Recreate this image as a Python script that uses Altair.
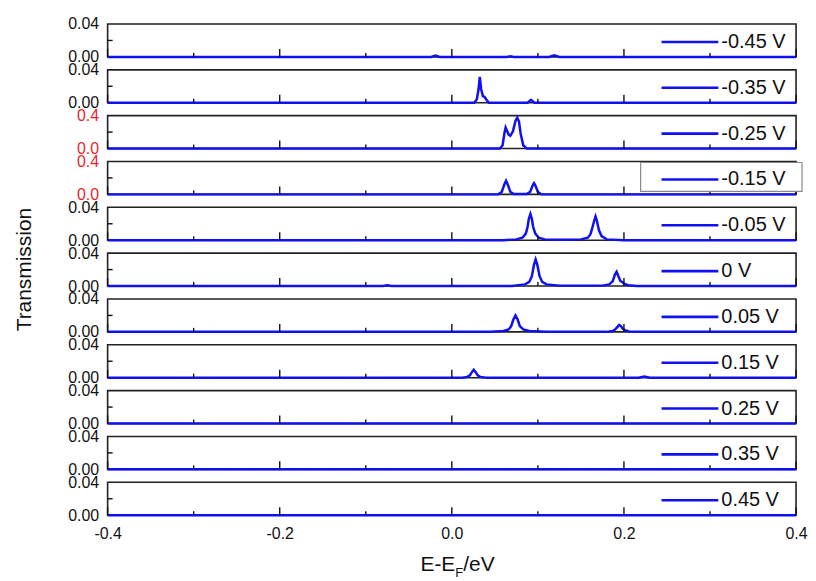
import altair as alt
import pandas as pd

FONT = "Liberation Sans"
BLUE = "#1010f0"
RED = "#e8262a"

labels = ["-0.45 V", "-0.35 V", "-0.25 V", "-0.15 V", "-0.05 V", "0 V",
          "0.05 V", "0.15 V", "0.25 V", "0.35 V", "0.45 V"]
ymax = [0.04, 0.04, 0.4, 0.4, 0.04, 0.04, 0.04, 0.04, 0.04, 0.04, 0.04]

E_m045 = [-0.4, -0.024, -0.019, -0.014, 0.064, 0.068, 0.072, 0.113, 0.119, 0.125, 0.4]
T_m045 = [0, 0, 0.0015, 0, 0, 0.0008, 0, 0, 0.0018, 0, 0]

E_m035 = [-0.4, 0.026, 0.029, 0.031, 0.0325, 0.034, 0.036, 0.038, 0.040, 0.043, 0.088, 0.092, 0.096, 0.4]
T_m035 = [0, 0, 0.004, 0.016, 0.0315, 0.017, 0.008, 0.0072, 0.004, 0, 0, 0.0035, 0, 0]

E_m025 = [-0.4, 0.056, 0.059, 0.061, 0.0625, 0.064, 0.066, 0.068, 0.071, 0.074, 0.076, 0.078, 0.080, 0.083, 0.087, 0.4]
T_m025 = [0, 0, 0.04, 0.18, 0.255, 0.22, 0.17, 0.155, 0.21, 0.34, 0.376, 0.33, 0.18, 0.04, 0, 0]

E_m015 = [-0.4, 0.054, 0.058, 0.061, 0.063, 0.065, 0.068, 0.072, 0.087, 0.091, 0.094, 0.0955, 0.097, 0.100, 0.104, 0.4]
T_m015 = [0, 0, 0.03, 0.12, 0.166, 0.12, 0.03, 0.005, 0.005, 0.03, 0.11, 0.137, 0.11, 0.03, 0, 0]

E_m005 = [-0.4, 0.06, 0.075, 0.082, 0.086, 0.088, 0.0895, 0.0913, 0.093, 0.0945, 0.097, 0.101, 0.108, 0.125,
          0.150, 0.158, 0.161, 0.163, 0.1655, 0.167, 0.1685, 0.171, 0.174, 0.18, 0.2, 0.4]
T_m005 = [0, 0, 0.001, 0.003, 0.008, 0.016, 0.026, 0.0319, 0.026, 0.016, 0.008, 0.003, 0.001, 0.0005,
          0.001, 0.003, 0.007, 0.014, 0.024, 0.029, 0.024, 0.012, 0.005, 0.001, 0, 0]

E_0 = [-0.4, -0.08, -0.075, -0.07, 0.07, 0.085, 0.090, 0.093, 0.0955, 0.0974, 0.0993, 0.102, 0.105, 0.11, 0.125,
       0.175, 0.183, 0.187, 0.1895, 0.1915, 0.1935, 0.196, 0.198, 0.200, 0.205, 0.215, 0.4]
T_0 = [0, 0, 0.0008, 0, 0, 0.002, 0.005, 0.012, 0.026, 0.0323, 0.026, 0.012, 0.005, 0.002, 0.0005,
       0.0005, 0.002, 0.006, 0.014, 0.0174, 0.012, 0.006, 0.005, 0.003, 0.001, 0, 0]

E_p005 = [-0.4, 0.045, 0.060, 0.066, 0.069, 0.0715, 0.074, 0.0765, 0.079, 0.083, 0.09, 0.11,
          0.18, 0.187, 0.190, 0.1925, 0.1945, 0.1965, 0.1985, 0.201, 0.206, 0.22, 0.4]
T_p005 = [0, 0, 0.001, 0.003, 0.007, 0.015, 0.020, 0.015, 0.007, 0.003, 0.001, 0,
          0, 0.001, 0.003, 0.006, 0.0085, 0.007, 0.004, 0.002, 0.0005, 0, 0]

E_p015 = [-0.4, 0.012, 0.018, 0.021, 0.0235, 0.0255, 0.0275, 0.030, 0.033, 0.04, 0.217, 0.2237, 0.230, 0.4]
T_p015 = [0, 0, 0.001, 0.003, 0.007, 0.0097, 0.007, 0.003, 0.001, 0, 0, 0.0015, 0, 0]

E_p025 = [-0.4, 0.4]
T_p025 = [0, 0]
E_p035 = [-0.4, 0.4]
T_p035 = [0, 0]
E_p045 = [-0.4, 0.4]
T_p045 = [0, 0]

series_E = [E_m045, E_m035, E_m025, E_m015, E_m005, E_0, E_p005, E_p015, E_p025, E_p035, E_p045]
series_T = [T_m045, T_m035, T_m025, T_m015, T_m005, T_0, T_p005, T_p015, T_p025, T_p035, T_p045]

X_MAJOR = [-0.4, -0.2, 0.0, 0.2, 0.4]
X_MINOR = [-0.3, -0.1, 0.1, 0.3]
X_LABELS = [-0.4, -0.2, 0.0, 0.2, 0.4]

W, H = 691, 33
N = len(labels)


def make_panel(i):
    label = labels[i]
    ym = ymax[i]
    red = ym > 0.1
    bottom = i == N - 1
    df = pd.DataFrame({"E": series_E[i], "T": series_T[i]})
    xscale = alt.Scale(domain=[-0.4, 0.4], nice=False, zero=False)
    yscale = alt.Scale(domain=[0, ym], nice=False, zero=False)

    if bottom:
        xaxis = alt.Axis(values=X_LABELS, ticks=False, domain=False, grid=False,
                         labelExpr="datum.value < 0 ? '-' + format(-datum.value, '.1f') : format(datum.value, '.1f')",
                         labelPadding=10, labelFontSize=16, labelFont=FONT, labelColor="#111",
                         labelFlush=False, title=None)
    else:
        xaxis = None
    yaxis = alt.Axis(values=[0, ym], format=".1f" if red else ".2f", ticks=False, domain=False,
                     grid=False, labelPadding=9, labelFontSize=16, labelFont=FONT,
                     labelColor=RED if red else "#111", labelFlush=False, title=None)

    base_df = pd.DataFrame({"a": [0]})
    frame = alt.Chart(base_df).mark_rect(fill="white", stroke="#222", strokeWidth=1.6).encode(
        x=alt.value(0), x2=alt.value(W), y=alt.value(0), y2=alt.value(H))

    line = alt.Chart(df).mark_line(color=BLUE, strokeWidth=2.5).encode(
        x=alt.X("E:Q", scale=xscale, axis=xaxis),
        y=alt.Y("T:Q", scale=yscale, axis=yaxis),
        order=alt.Order("E:Q"))

    major = alt.Chart(pd.DataFrame({"E": X_MAJOR})).mark_rule(color="#111", strokeWidth=1.4).encode(
        x=alt.X("E:Q", scale=xscale, axis=xaxis), y=alt.value(H - 8), y2=alt.value(H))
    minor = alt.Chart(pd.DataFrame({"E": X_MINOR})).mark_rule(color="#111", strokeWidth=1.4).encode(
        x=alt.X("E:Q", scale=xscale, axis=xaxis), y=alt.value(H - 4), y2=alt.value(H))
    ytick = alt.Chart(pd.DataFrame({"T": [ym / 2]})).mark_rule(color="#111", strokeWidth=1.4).encode(
        y=alt.Y("T:Q", scale=yscale, axis=yaxis), x=alt.value(0), x2=alt.value(5))

    layers = [frame, line, major, minor, ytick]

    if label == "-0.15 V":
        box = alt.Chart(base_df).mark_rect(fill="white", stroke="#8a8a8a", strokeWidth=1.2).encode(
            x=alt.value(W - 156), x2=alt.value(W + 6), y=alt.value(1), y2=alt.value(30))
        layers.append(box)

    ldf = pd.DataFrame({"label": [label]})
    leg_line = alt.Chart(ldf).mark_rule(color=BLUE, strokeWidth=2.6).encode(
        x=alt.value(W - 135), x2=alt.value(W - 78), y=alt.value(18))
    leg_text = alt.Chart(ldf).mark_text(align="left", baseline="middle", fontSize=20, font=FONT,
                                        color="#111").encode(
        x=alt.value(W - 75), y=alt.value(18), text="label:N")
    layers += [leg_line, leg_text]

    if i == 5:
        ttl = alt.Chart(pd.DataFrame({"t": ["Transmission"]})).mark_text(
            angle=270, align="center", baseline="middle", fontSize=21, font=FONT, color="#111").encode(
            x=alt.value(-83), y=alt.value(H / 2), text="t:N")
        layers.append(ttl)

    if bottom:
        t1 = alt.Chart(pd.DataFrame({"t": ["E-E"]})).mark_text(
            align="right", baseline="middle", fontSize=21, font=FONT, color="#111").encode(
            x=alt.value(349), y=alt.value(83), text="t:N")
        t2 = alt.Chart(pd.DataFrame({"t": ["F"]})).mark_text(
            align="left", baseline="middle", fontSize=13, font=FONT, color="#111").encode(
            x=alt.value(349), y=alt.value(91), text="t:N")
        t3 = alt.Chart(pd.DataFrame({"t": ["/eV"]})).mark_text(
            align="left", baseline="middle", fontSize=21, font=FONT, color="#111").encode(
            x=alt.value(357), y=alt.value(83), text="t:N")
        layers += [t1, t2, t3]

    return alt.layer(*layers).properties(width=W, height=H)


panels = [make_panel(i) for i in range(N)]

chart = alt.vconcat(*panels, spacing=13, bounds="flush").properties(
    padding={"left": 5, "top": 7, "right": 0, "bottom": 0}
).configure_view(strokeWidth=0).configure_text(font=FONT)

chart.save("out.html", embed_options={"renderer": "svg", "actions": False})
